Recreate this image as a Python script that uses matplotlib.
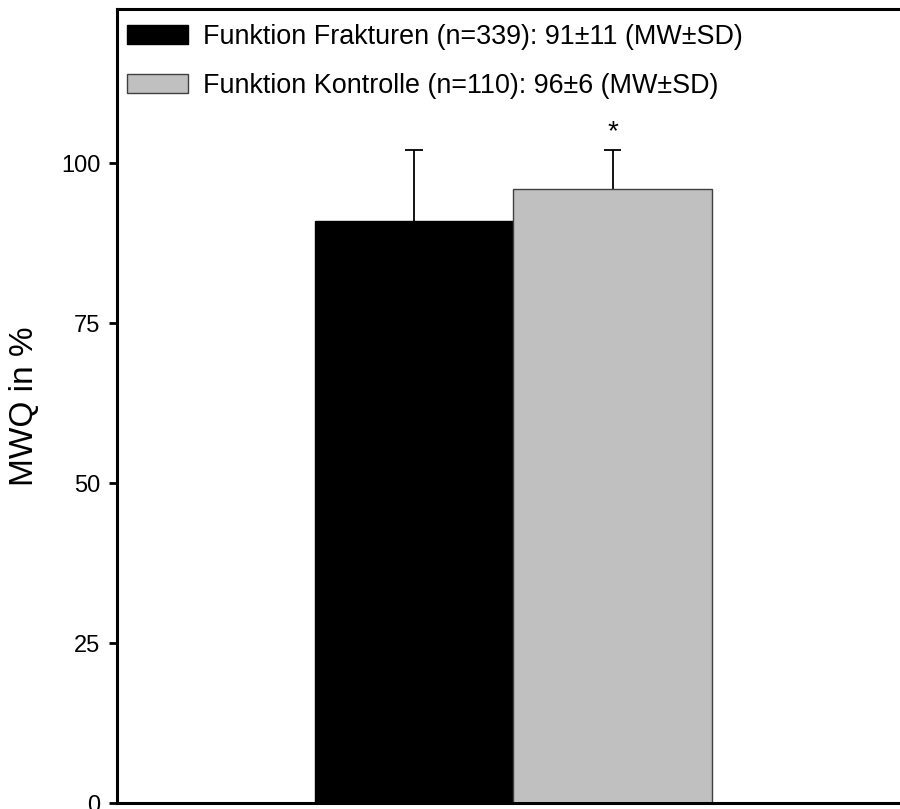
import matplotlib
matplotlib.use("Agg")
import matplotlib.pyplot as plt
from matplotlib.patches import Patch

plt.rcParams['font.family'] = ['Liberation Sans', 'DejaVu Sans']

groups = ["Frakturen", "Kontrolle"]
n_values = [339, 110]
means = [91, 96]
sds = [11, 6]
colors = ["#000000", "#c0c0c0"]
edges = ["#000000", "#404040"]
yticks = [0, 25, 50, 75, 100]

fig = plt.figure(figsize=(9, 8.09), dpi=100)
ax = fig.add_axes([0.13, 0.0074, 0.892, 0.9815])

x = [0, 1]
ax.bar(x, means, width=1.0, color=colors, edgecolor=edges, linewidth=1.0, zorder=2)

# upper error whiskers only (no cap at the bar top)
cap = 0.045
for xi, m, s in zip(x, means, sds):
    ax.vlines(xi, m, m + s, color='black', linewidth=1.3, zorder=1)
    ax.hlines(m + s, xi - cap, xi + cap, color='black', linewidth=1.3, zorder=1)

# significance marker above the control bar
ax.text(1, means[1] + sds[1] + 2.8, "*", ha='center', va='center', fontsize=20)

handles = []
for g, n, m, s, c, e in zip(groups, n_values, means, sds, colors, edges):
    lbl = "Funktion %s (n=%d): %d\u00b1%d (MW\u00b1SD)" % (g, n, m, s)
    handles.append(Patch(facecolor=c, edgecolor=e, linewidth=1.0, label=lbl))
ax.legend(handles=handles, loc='upper left', bbox_to_anchor=(0.0, 0.994),
          frameon=False, fontsize=19.4, handlelength=2.27, handleheight=0.71,
          handletextpad=0.56, labelspacing=0.85, borderaxespad=0.15,
          borderpad=0.22)

ax.set_xlim(-1.5, 2.55)
ax.set_ylim(0, 124.1)
ax.set_yticks(yticks)
ax.set_xticks([])
ax.tick_params(axis='y', direction='out', length=6, width=2, labelsize=17, pad=6)
for sp in ax.spines.values():
    sp.set_linewidth(2.2)

ax.set_ylabel("MWQ in %", fontsize=24)
ax.yaxis.set_label_coords(-0.096, 0.5)

fig.savefig("out.png", dpi=100)
